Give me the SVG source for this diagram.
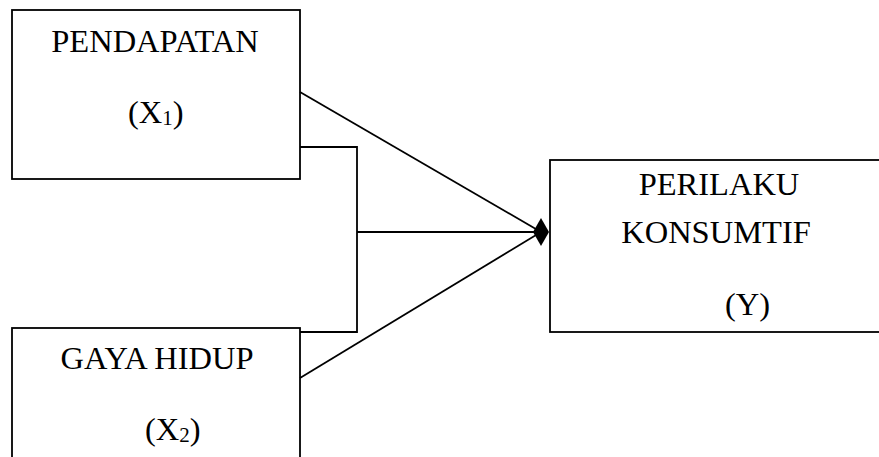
<svg xmlns="http://www.w3.org/2000/svg" width="879" height="457" viewBox="0 0 879 457">
<style>
.box{fill:#fff;stroke:#000;stroke-width:1.8}
.t{font-family:"Liberation Serif","Times New Roman",serif;font-size:32.5px;fill:#000}
.sub{font-size:21px}
.ln{fill:none;stroke:#000;stroke-width:1.8}
</style>
<rect width="879" height="457" fill="#fff"/>
<g id="x1">
<rect class="box" x="12" y="10" width="288" height="169"/>
<text class="t" x="155" y="52" text-anchor="middle">PENDAPATAN</text>
<text class="t" x="128" y="123">(X<tspan class="sub" dy="2">1</tspan><tspan dy="-2">)</tspan></text>
</g>
<g id="x2">
<rect class="box" x="12" y="328" width="288" height="140"/>
<text class="t" x="157" y="369" text-anchor="middle">GAYA HIDUP</text>
<text class="t" x="145" y="440">(X<tspan class="sub" dy="2">2</tspan><tspan dy="-2">)</tspan></text>
</g>
<g id="y">
<rect class="box" x="550" y="160" width="345" height="172"/>
<text class="t" x="719" y="195" text-anchor="middle">PERILAKU</text>
<text class="t" x="716" y="243" text-anchor="middle">KONSUMTIF</text>
<text class="t" x="725" y="315">(Y)</text>
</g>
<g id="connectors">
<line class="ln" x1="300" y1="92" x2="541" y2="232"/>
<line class="ln" x1="300" y1="378" x2="541" y2="232"/>
<polyline class="ln" points="300,147 357,147 357,332 300,332"/>
<line class="ln" x1="357" y1="232" x2="541" y2="232"/>
<polygon points="549,232 541,218 533,232 541,246" fill="#000"/>
</g>
</svg>
